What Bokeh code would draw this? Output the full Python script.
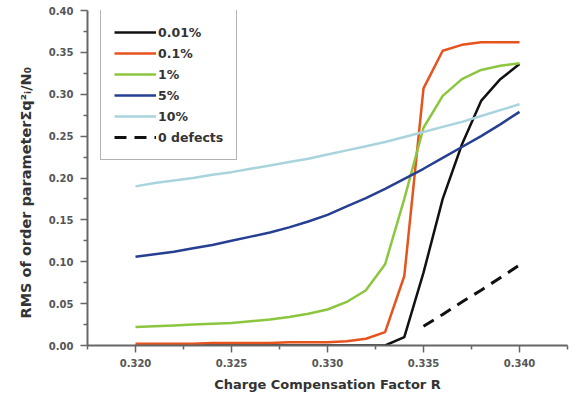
from bokeh.plotting import figure
from bokeh.models import Range1d, FixedTicker, Legend, LegendItem, NumeralTickFormatter, Title
from bokeh.embed import file_html
from bokeh.resources import INLINE

# ---- data ----
r = [0.320, 0.321, 0.322, 0.323, 0.324, 0.325, 0.326, 0.327, 0.328, 0.329, 0.330,
     0.331, 0.332, 0.333, 0.334, 0.335, 0.336, 0.337, 0.338, 0.339, 0.340]

s_001 = [0.000, 0.000, 0.000, 0.000, 0.000, 0.000, 0.000, 0.000, 0.000, 0.000, 0.000,
         0.000, 0.000, 0.000, 0.010, 0.087, 0.175, 0.240, 0.292, 0.318, 0.336]
s_01 = [0.002, 0.002, 0.002, 0.002, 0.003, 0.003, 0.003, 0.003, 0.004, 0.004, 0.004,
        0.005, 0.008, 0.016, 0.083, 0.307, 0.352, 0.359, 0.362, 0.362, 0.362]
s_1 = [0.022, 0.023, 0.024, 0.025, 0.026, 0.027, 0.029, 0.031, 0.034, 0.038, 0.043,
       0.052, 0.066, 0.097, 0.175, 0.260, 0.298, 0.318, 0.329, 0.334, 0.337]
s_5 = [0.106, 0.109, 0.112, 0.116, 0.120, 0.125, 0.130, 0.135, 0.141, 0.148, 0.156,
       0.166, 0.176, 0.187, 0.199, 0.211, 0.224, 0.237, 0.250, 0.264, 0.279]
s_10 = [0.190, 0.194, 0.197, 0.200, 0.204, 0.207, 0.211, 0.215, 0.219, 0.223, 0.228,
        0.233, 0.238, 0.243, 0.249, 0.255, 0.261, 0.267, 0.274, 0.281, 0.288]

r_0def = [0.335, 0.336, 0.337, 0.338, 0.339, 0.340]
s_0def = [0.023, 0.037, 0.052, 0.066, 0.081, 0.096]

x_ticks = [0.320, 0.325, 0.330, 0.335, 0.340]
x_minor = [0.3175, 0.3225, 0.3275, 0.3325, 0.3375, 0.3425]
y_ticks = [0.00, 0.05, 0.10, 0.15, 0.20, 0.25, 0.30, 0.35, 0.40]
y_minor = [0.025, 0.075, 0.125, 0.175, 0.225, 0.275, 0.325, 0.375]

labels = ["0.01%", "0.1%", "1%", "5%", "10%", "0 defects"]
colors = ["#111111", "#e6531d", "#8cc63f", "#263f92", "#a9d4de", "#111111"]

x_title = "Charge Compensation Factor R"
y_title = "RMS of order parameterΣq²ᵢ/N₀"

FONT = "DejaVu Sans"

p = figure(width=581, height=405, output_backend="svg", toolbar_location=None,
           x_range=Range1d(0.3175, 0.3425), y_range=Range1d(0.0, 0.40),
           min_border_left=87, min_border_right=14, min_border_top=10, min_border_bottom=60)

p.background_fill_color = "white"
p.border_fill_color = "white"
p.outline_line_color = None
p.xgrid.visible = False
p.ygrid.visible = False

series = [s_001, s_01, s_1, s_5, s_10]
renderers = []
for s, c in zip(series, colors[:5]):
    renderers.append(p.line(r, s, line_color=c, line_width=2.5))
renderers.append(p.line(r_0def, s_0def, line_color=colors[5], line_width=3, line_dash="12 8"))

legend = Legend(items=[LegendItem(label=l, renderers=[rr]) for l, rr in zip(labels, renderers)],
                location=(13, 185))
legend.label_text_font = FONT
legend.label_text_font_style = "bold"
legend.label_text_font_size = "12.5px"
legend.label_text_color = "#333333"
legend.glyph_width = 42
legend.glyph_height = 18
legend.label_height = 18
legend.label_standoff = 2
legend.spacing = 3
legend.padding = 13
legend.border_line_color = "#666666"
legend.border_line_width = 1.5
legend.background_fill_alpha = 1.0
p.add_layout(legend, "center")

for ax in (p.xaxis[0], p.yaxis[0]):
    ax.axis_line_color = "#666666"
    ax.axis_line_width = 2
    ax.major_tick_line_color = "#666666"
    ax.minor_tick_line_color = "#666666"
    ax.major_tick_line_width = 1.5
    ax.minor_tick_line_width = 1.5
    ax.major_tick_in = 0
    ax.major_tick_out = 7
    ax.minor_tick_in = 0
    ax.minor_tick_out = 4
    ax.major_label_text_font = FONT
    ax.major_label_text_font_style = "bold"
    ax.major_label_text_font_size = "10px"
    ax.major_label_text_color = "#555555"
    ax.axis_label_text_font = FONT
    ax.axis_label_text_font_style = "bold"
    ax.axis_label_text_font_size = "13px"
    ax.axis_label_text_color = "#333333"

p.xaxis.ticker = FixedTicker(ticks=x_ticks, minor_ticks=x_minor)
p.yaxis.ticker = FixedTicker(ticks=y_ticks, minor_ticks=y_minor)
p.xaxis.formatter = NumeralTickFormatter(format="0.000")
p.yaxis.formatter = NumeralTickFormatter(format="0.00")
p.xaxis.major_label_standoff = 6
p.yaxis.major_label_standoff = 7
p.xaxis.axis_label = x_title
p.xaxis.axis_label_standoff = 7

ytitle = Title(text=y_title, align="left", offset=27, standoff=24,
               text_font=FONT, text_font_style="bold", text_font_size="14.5px",
               text_color="#333333")
p.add_layout(ytitle, "left")

open("out.html", "w").write(file_html(p, INLINE))
